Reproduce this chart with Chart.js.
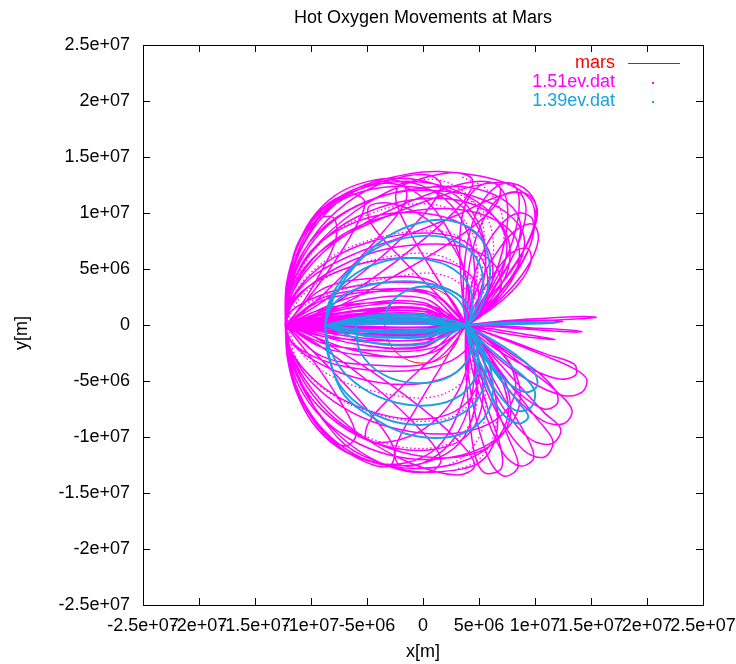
<!DOCTYPE html>
<html>
<head>
<meta charset="utf-8">
<title>Hot Oxygen Movements at Mars</title>
<script src="https://cdn.jsdelivr.net/npm/chart.js@4.4.1/dist/chart.umd.min.js"></script>
<style>
  html, body { margin: 0; padding: 0; background: #fff; }
  #wrap { width: 736px; height: 664px; position: relative; }
</style>
</head>
<body>
<div id="wrap"><canvas id="orbits"></canvas></div>
<script>
// all track points are in units of 1e6 m
const M = 1e6;

const xTickValues = [-2.5e7, -2e7, -1.5e7, -1e7, -5e6, 0, 5e6, 1e7, 1.5e7, 2e7, 2.5e7];
const xTickLabels = ['-2.5e+07', '-2e+07', '-1.5e+07', '-1e+07', '-5e+06', '0', '5e+06', '1e+07', '1.5e+07', '2e+07', '2.5e+07'];
const yTickValues = [-2.5e7, -2e7, -1.5e7, -1e7, -5e6, 0, 5e6, 1e7, 1.5e7, 2e7, 2.5e7];
const yTickLabels = ['-2.5e+07', '-2e+07', '-1.5e+07', '-1e+07', '-5e+06', '0', '5e+06', '1e+07', '1.5e+07', '2e+07', '2.5e+07'];

// planet outline (radius ~3.4e6 m)
const marsOutline = [
  [3.4, 0], [2.94, 1.7], [1.7, 2.94], [0, 3.4], [-1.7, 2.94], [-2.94, 1.7], [-3.4, 0],
  [-2.94, -1.7], [-1.7, -2.94], [0, -3.4], [1.7, -2.94], [2.94, -1.7], [3.4, 0]
];

// 1.51 eV: orbits arching over the north side
const hot151North = [
  [[-12.3,0],[-11.9,4],[-10.5,7.6],[-8.3,10.7],[-5.2,12.5],[-1.2,13.5],[1.5,13.7],[5.1,13.3],[7.8,12.5],[9.6,11.2],[10,9.4],[9.4,6.7],[7,3],[3.8,0],[0,0.6],[-6,0.5],[-12.3,0]],
  [[-12.3,0],[-12,3.5],[-11,7],[-9,10],[-6,12],[-2.5,12.8],[1,12.6],[4,11.5],[6.5,9.5],[7.5,7],[6.5,3.5],[3.8,0],[0,1.2],[-6,1.0],[-12.3,0]],
  [[-12.3,0],[-12.1,3],[-11.3,6.2],[-9.8,9],[-7,11.3],[-3.5,12.3],[0,12.2],[3,11],[5,8.5],[5.6,5.5],[5,2.5],[3.8,0],[0,1.8],[-6,1.6],[-12.3,0]],
  [[-12.3,0],[-11.8,3],[-10,5.8],[-7,8],[-3,9.8],[1.5,11.5],[5.5,12.6],[8.5,12.5],[10,11],[9.8,8.5],[8,5],[5.5,2],[3.8,0],[0,0.9],[-6,0.8],[-12.3,0]],
  [[-12.3,0],[-12,2.5],[-11,5],[-9,7.5],[-6,9.6],[-2,11],[2,11.3],[5.5,10.3],[7.5,8],[7.6,5],[6,2.2],[3.8,0],[0,0.4],[-6,0.35],[-12.3,0]],
  [[-12.3,0],[-12.1,2],[-11.4,4.3],[-10,6.6],[-7.5,8.5],[-4,9.8],[0,10],[3.5,9],[5.8,6.8],[6.2,4],[5.2,1.6],[3.8,0],[0,2.4],[-6,2.1],[-12.3,0]],
  [[-12.3,0],[-11.9,2],[-10.5,4],[-8,6],[-4.5,7.5],[-0.5,8.2],[3,7.8],[5.2,6],[5.8,3.5],[5,1.3],[3.8,0],[0,1.5],[-6,1.3],[-12.3,0]],
  [[-12.3,0],[-12,1.5],[-10.8,3],[-8.5,4.4],[-5,5.6],[-1,6],[2.5,5.5],[4.6,4],[4.9,2],[3.8,0],[0,0.8],[-6,0.7],[-12.3,0]],
  [[-12.3,0],[-11.8,1.2],[-10,2.3],[-7,3.3],[-3,3.8],[1,3.6],[3.6,2.4],[4.2,1],[3.8,0],[0,0.2],[-6,0.2],[-12.3,0]],
  [[-12.3,0],[-12.1,3.5],[-11.3,7],[-9.6,9.6],[-7.2,11.6],[-4.5,12.6],[-1.8,12.4],[0.6,10.8],[2.5,8],[3.8,4.5],[4.2,2],[3.8,0],[0,3],[-6,2.6],[-12.3,0]],
  [[-12.3,0],[-12,3],[-11,6],[-9,8.6],[-6,10.6],[-2.5,11.8],[1,12],[4.5,11.5],[7.5,10],[9,8],[8.6,5.5],[6.5,2.5],[3.8,0],[0,1.0],[-6,0.9],[-12.3,0]],
  [[-12.3,0],[-12,2.8],[-11,5.6],[-9.2,8.2],[-6.5,10.3],[-3,11.7],[0.5,12.3],[4,12.3],[7,11.3],[8.6,9.5],[8.4,7],[6.6,3.8],[3.8,0],[0,1.4],[-6,1.2],[-12.3,0]],
  [[-12.3,0],[-11.9,2.2],[-10.8,4.6],[-8.8,6.9],[-5.8,8.8],[-2,10],[2,10.4],[5.5,9.8],[8,8.2],[8.6,6],[7.4,3.2],[3.8,0],[0,0.6],[-6,0.6],[-12.3,0]],
  [[-12.3,0],[-12.1,3.2],[-11.4,6.5],[-10,9.4],[-7.8,11.6],[-5,12.8],[-2,13.1],[1,12.6],[3.6,11],[5.2,8.5],[5.6,5.5],[5,2.6],[3.8,0],[0,2],[-6,1.8],[-12.3,0]],
  [[-12.3,0],[-11.7,1.8],[-10,3.6],[-7.5,5.2],[-4,6.6],[0,7.2],[3.5,7],[6.2,5.6],[7,3.6],[6,1.6],[3.8,0],[0,-0.2],[-6,-0.1],[-12.3,0]],
  [[-12.3,0],[-11.6,2.4],[-9.5,4.6],[-6,6.4],[-1.5,8],[3,9.8],[6.5,11.4],[9,11.8],[10.2,10.4],[9.6,7.8],[7.5,4.4],[5.2,1.6],[3.8,0],[0,0.1],[-6,0.1],[-12.3,0]]
];

// 1.51 eV: orbits arching over the south side
const hot151South = [
  [[-12.3,0],[-11.9,-2.5],[-10.7,-5.5],[-8.9,-8.5],[-6.25,-11.2],[-1.8,-12.9],[1.5,-13.1],[5,-12.3],[6.5,-10],[6.5,-6.5],[5.3,-3],[3.8,0],[0,-0.6],[-6,-0.5],[-12.3,0]],
  [[-12.3,0],[-12.1,-3],[-11.2,-6.2],[-9.5,-9.2],[-6.8,-11.4],[-3,-12.5],[0.5,-12.2],[3.3,-10.5],[4.6,-7.5],[4.7,-4],[3.8,0],[0,-1.3],[-6,-1.1],[-12.3,0]],
  [[-12.3,0],[-12,-2.4],[-11,-5],[-9,-7.6],[-6,-9.8],[-2.5,-11],[1,-11.1],[3.8,-10],[5.2,-7.5],[5.2,-4.3],[3.8,0],[0,-2],[-6,-1.7],[-12.3,0]],
  [[-12.3,0],[-11.9,-2],[-10.6,-4],[-8.3,-6],[-5,-7.6],[-1.2,-8.4],[2.2,-8],[4.4,-6.3],[5,-3.6],[3.8,0],[0,-0.9],[-6,-0.8],[-12.3,0]],
  [[-12.3,0],[-11.8,-1.5],[-10,-3],[-7,-4.4],[-3.5,-5.2],[0,-5.2],[3,-4.2],[4.3,-2.2],[3.8,0],[0,-0.35],[-6,-0.3],[-12.3,0]],
  [[-12.3,0],[-12,-3],[-11.1,-6],[-9.4,-8.8],[-7,-11],[-4.2,-12.3],[-1.5,-12.3],[1.2,-11],[3,-8.2],[4,-4.5],[3.8,0],[0,-2.7],[-6,-2.3],[-12.3,0]],
  [[-12.3,0],[-11.7,-2.8],[-10.3,-5.6],[-7.8,-8.4],[-4.5,-10.4],[-0.8,-11.6],[3,-11.8],[6,-10.8],[7.7,-8.6],[7.5,-5.5],[5.8,-2.5],[3.8,0],[0,-1.6],[-6,-1.4],[-12.3,0]],
  [[-12.3,0],[-12.1,-3],[-11.3,-6],[-9.8,-8.8],[-7.4,-11],[-4,-12.4],[-0.3,-12.8],[3.2,-12.3],[6.2,-10.6],[7.6,-8],[7,-4.8],[5.4,-2],[3.8,0],[0,-0.8],[-6,-0.7],[-12.3,0]],
  [[-12.3,0],[-11.8,-2.2],[-10.4,-4.6],[-8,-6.8],[-4.6,-8.6],[-0.6,-9.6],[3.4,-9.6],[6.6,-8.4],[8.2,-6.2],[7.8,-3.6],[5.8,-1.4],[3.8,0],[0,-1.9],[-6,-1.7],[-12.3,0]],
  [[-12.3,0],[-12,-2.7],[-11.1,-5.4],[-9.3,-8],[-6.5,-10.2],[-3,-11.6],[0.8,-12],[4.5,-11.3],[7.2,-9.6],[8.6,-7.2],[8.3,-4.4],[6.4,-1.8],[3.8,0],[0,-0.2],[-6,-0.2],[-12.3,0]],
  [[-12.3,0],[-11.8,-1.4],[-10.2,-2.6],[-7.5,-3.6],[-4,-4.1],[-0.5,-4],[2.5,-3.2],[4.2,-1.6],[3.8,0],[0,0.1],[-6,0.1],[-12.3,0]]
];

// 1.51 eV: tilted loops hanging off the nightside point
const hot151NightLoops = [
  [[-12.3,0],[-12,3.5],[-10.5,7.5],[-7.8,10.8],[-4.5,12.6],[-2,12.8],[-1.5,11.2],[-3.5,8.4],[-7,4.6],[-10.5,1.3],[-12.3,0]],
  [[-12.3,0],[-11.9,3.6],[-10,7.6],[-6.8,10.9],[-3,12.9],[0.5,13.4],[1.6,12.4],[0,9.8],[-3.8,6],[-8.5,2.4],[-12.3,0]],
  [[-12.3,0],[-11.8,3.4],[-9.6,7],[-6,10.2],[-1.8,12.5],[2.4,13.6],[4.4,13],[3.6,11],[0,7.6],[-5,3.8],[-9.6,1],[-12.3,0]],
  [[-12.3,0],[-11.6,3],[-9,6.4],[-5,9.2],[0,11.5],[4.5,12.8],[6.8,12.4],[6.4,10.6],[2.8,7.6],[-2.5,4.4],[-8.5,1.2],[-12.3,0]],
  [[-12.3,0],[-12.1,3.8],[-11,7.6],[-9,10.4],[-6.6,11.7],[-5.2,11],[-6.2,8.4],[-8.6,4.6],[-11.2,1.2],[-12.3,0]],
  [[-12.3,0],[-12.2,3.6],[-11.2,7],[-9.6,9.3],[-8,9.6],[-7.8,7.6],[-9.4,4.2],[-11.4,1],[-12.3,0]],
  [[-12.3,0],[-12,-3.2],[-10.6,-7],[-8,-10.4],[-5.2,-12.2],[-3,-12.6],[-2.6,-11],[-4.6,-8],[-8,-4.2],[-11,-1.2],[-12.3,0]],
  [[-12.3,0],[-11.8,-3.2],[-9.8,-7.2],[-6.6,-10.6],[-2.8,-12.7],[0.6,-13.1],[1.6,-12],[-0.2,-9.4],[-4.2,-5.6],[-9,-2],[-12.3,0]],
  [[-12.3,0],[-11.6,-3],[-9.2,-6.6],[-5.6,-9.8],[-1.2,-12.3],[3,-13.4],[4.6,-12.6],[3.4,-10.6],[-0.4,-7.2],[-5.4,-3.6],[-10,-0.9],[-12.3,0]],
  [[-12.3,0],[-12,-3.2],[-10.8,-6.8],[-8.9,-9.6],[-7,-10.8],[-6,-9.8],[-7.4,-6.8],[-9.8,-3.2],[-12.3,0]]
];

// 1.51 eV: short loops leaving the dayside point
const hot151Petals = [
  [[3.8,0],[4.2,3],[5.2,6.2],[6.8,8.8],[8.5,10],[9.8,9.4],[9.6,7.2],[8.2,4.5],[6,2],[3.8,0]],
  [[3.8,0],[3.9,3.5],[4.5,7],[5.6,9.8],[7,11.5],[8.6,11.8],[9.2,10.2],[8.4,7],[6.5,3.5],[3.8,0]],
  [[3.8,0],[3.4,4],[3.3,8],[3.8,10.8],[5,12.4],[6.5,12.6],[7.5,11],[7.3,7.5],[6,3.5],[3.8,0]],
  [[3.8,0],[5,2.5],[6.5,4.8],[8,6.5],[9.4,6.8],[9.6,5.5],[8.4,3.5],[6.2,1.5],[3.8,0]],
  [[3.8,0],[4.8,3.2],[6.4,6.2],[8.2,8.4],[9.8,9],[10.3,7.6],[9.2,5],[6.8,2.2],[3.8,0]],
  [[3.8,0],[3.6,3.8],[4,7.5],[5,10.5],[6.6,12.4],[8,12.6],[8.6,11],[8,7.5],[6.2,3.5],[3.8,0]],
  [[3.8,0],[4.6,3.6],[4.2,7.6],[2.6,10.6],[0,12.4],[-2,12.6],[-2.4,11],[-0.8,7.6],[1.6,3.6],[3.8,0]],
  [[3.8,0],[4,3.4],[2.8,6.8],[0.4,9.4],[-2.6,10.8],[-4.8,10.6],[-4.6,9],[-2,6],[1.4,2.6],[3.8,0]],
  [[3.8,0],[4.6,-3.6],[4,-7.6],[2.4,-10.6],[-0.2,-12.4],[-2.2,-12.4],[-2.4,-10.8],[-0.6,-7.4],[1.8,-3.4],[3.8,0]],
  [[3.8,0],[4,-3.4],[2.6,-6.8],[0.2,-9.2],[-2.8,-10.4],[-5,-10.2],[-4.8,-8.6],[-2.2,-5.8],[1.2,-2.6],[3.8,0]],
  [[3.8,0],[7,0.35],[11,0.6],[14,0.75],[15.5,0.7],[14,0.55],[11,0.4],[7,0.2],[3.8,0]],
  [[3.8,0],[7,-0.2],[10.5,-0.45],[13,-0.6],[14.2,-0.6],[13,-0.45],[10.5,-0.3],[7,-0.1],[3.8,0]],
  [[3.8,0],[7,0.25],[10,0.4],[12.5,0.3],[10,0.15],[7,0.05],[3.8,0]],
  [[3.8,0],[6.5,-0.6],[9.5,-1.1],[11.8,-1.3],[9.5,-0.9],[6.5,-0.4],[3.8,0]],
  [[3.8,0],[7,-1.2],[10.5,-2.6],[13.3,-3.8],[14.6,-4.8],[14.2,-6],[12.5,-6.3],[9.5,-5],[6.5,-2.8],[3.8,0]],
  [[3.8,0],[6.5,-1.8],[9.5,-4],[12,-6],[13.3,-7.6],[12.6,-8.8],[10.8,-8.6],[8.2,-6.4],[5.8,-3.2],[3.8,0]],
  [[3.8,0],[6,-2.5],[8.5,-5.3],[10.8,-7.8],[12.3,-9.3],[11.5,-10.6],[9.6,-10.2],[7.3,-7.6],[5.3,-3.8],[3.8,0]],
  [[3.8,0],[5.3,-3],[7.2,-6.5],[9,-9.5],[9.9,-11.8],[8.7,-12.6],[7.2,-11.5],[5.6,-8],[4.4,-4],[3.8,0]],
  [[3.8,0],[4.6,-3.5],[5.8,-7.5],[6.9,-10.8],[7,-12.8],[5.5,-13.2],[4.6,-11.5],[4.1,-7.5],[3.8,-3.5],[3.8,0]],
  [[3.8,0],[7,-2],[10,-4],[11.8,-5.8],[12,-7],[10.8,-7.5],[8.5,-6],[6,-3.2],[3.8,0]],
  [[3.8,0],[7.5,-1.3],[11,-2.6],[13.5,-3.5],[13.6,-4.5],[12,-4.8],[9,-3.6],[6,-1.8],[3.8,0]],
  [[3.8,0],[5.8,-2.6],[8,-5.6],[10.2,-8.4],[11.6,-10.4],[10.8,-11.8],[9,-11.2],[6.8,-8.2],[5,-4.2],[3.8,0]],
  [[3.8,0],[5,-3.2],[6.3,-6.8],[7.6,-10],[8.5,-12.6],[7.3,-13.5],[6,-12.2],[4.8,-8.6],[4,-4.2],[3.8,0]]
];

// 1.51 eV: flat tracks along the axis
const hot151Flat = [
  [[-12.3,0],[-9,0.9],[-4,1.3],[1,1.1],[3.8,0],[1,-0.6],[-4,-0.8],[-9,-0.6],[-12.3,0]],
  [[-12.3,0],[-9,-1.6],[-4,-2.3],[1,-2],[3.8,0],[1,-1.2],[-4,-1.4],[-9,-1],[-12.3,0]],
  [[-12.3,0],[-9,2.2],[-4,3],[1,2.6],[3.8,0],[1,1.6],[-4,2],[-9,1.4],[-12.3,0]],
  [[-12.3,0],[-9,0.45],[-4,0.6],[1,0.5],[3.8,0],[1,0.2],[-4,0.25],[-9,0.2],[-12.3,0]],
  [[-12.3,0],[-9,-0.45],[-4,-0.55],[1,-0.45],[3.8,0],[1,-0.15],[-4,-0.2],[-9,-0.15],[-12.3,0]],
  [[-12.3,0],[-9,3.2],[-4,4.2],[1,3.8],[3.8,0],[1,2.8],[-4,3.2],[-9,2.4],[-12.3,0]],
  [[-12.3,0],[-9,-2.8],[-4,-3.6],[1,-3.2],[3.8,0],[1,-2.4],[-4,-2.8],[-9,-2],[-12.3,0]]
];

// 1.51 eV: fast, sparsely sampled stretches (show up dotted)
const hot151Sparse = [
  [[-12.3,0],[-11,3.5],[-8,6.2],[-4,7.8],[0,8.4],[3,8],[4.8,6],[4.6,3],[3.8,0]],
  [[-12.3,0],[-10.8,2.6],[-7.5,4.8],[-3,6.1],[1,6.3],[3.8,4.8],[4.5,2.4],[3.8,0]],
  [[-12.3,0],[-11.3,4.2],[-8.8,7.6],[-5,9.8],[-1,10.8],[2.5,10.3],[4.5,8],[4.8,4.5],[3.8,0]],
  [[-12.3,0],[-10.5,1.8],[-7,3.2],[-3,4.2],[1,4.6],[3.4,3.6],[4.3,1.8],[3.8,0]],
  [[-1,13],[2,12.8],[4.5,11],[5.5,8],[5.2,4.5],[3.8,0]],
  [[1,12.4],[3.4,11.6],[5.6,9.8],[6.3,6.8],[5.5,3.2],[3.8,0]],
  [[3.5,13.2],[5.6,12.2],[7,10],[7.1,6.8],[5.8,3],[3.8,0]],
  [[-12.3,0],[-11,-3.5],[-8,-6.3],[-4,-8],[0,-8.6],[3,-8],[4.8,-6],[4.7,-3],[3.8,0]],
  [[-12.3,0],[-10.8,-2.6],[-7.5,-4.9],[-3,-6.2],[1,-6.4],[3.8,-4.8],[4.5,-2.4],[3.8,0]],
  [[-12.3,0],[-11.3,-4.2],[-8.8,-7.8],[-5,-10],[-1,-11],[2.5,-10.5],[4.5,-8.2],[4.8,-4.6],[3.8,0]],
  [[-0.5,-12.8],[2.5,-12.4],[4.8,-10.4],[5.6,-7.2],[5,-3.6],[3.8,0]],
  [[2.8,-13],[5,-12],[6.4,-9.6],[6.4,-6],[5.2,-2.8],[3.8,0]]
];

// 1.39 eV tracks
const hot139Tracks = [
  [[-8.75,0],[-7.8,2.8],[-5.6,5.8],[-3,8],[0,9.2],[2.5,9.3],[4.8,8.2],[5.9,5.8],[5.7,2.9],[3.8,0],[0,0.5],[-5,0.4],[-8.75,0]],
  [[-8.75,0],[-8,2.5],[-6,4.6],[-3,5.8],[0,5.9],[2.7,5],[4.3,3],[3.8,0],[0,0.9],[-5,0.8],[-8.75,0]],
  [[-8.75,0],[-8.2,1.6],[-6.5,3],[-3.5,3.8],[0,3.8],[3,2.8],[4.2,1.2],[3.8,0],[0,0.3],[-5,0.25],[-8.75,0]],
  [[-8.75,0],[-8.4,2],[-7,4.4],[-4.6,6.6],[-1.4,7.8],[2,7.8],[4.6,6.2],[5.4,3.6],[4.6,1.2],[3.8,0],[0,0.6],[-5,0.6],[-8.75,0]],
  [[-3.5,0],[-3,1.8],[-1.2,3.2],[1,3.4],[3,2.4],[3.9,0.8],[3.8,0]],
  [[-8.75,0],[-8.3,-3.1],[-7,-6.3],[-4.1,-8.5],[-1.2,-9.8],[2.4,-10],[5,-8.8],[6.2,-6.5],[5.8,-3.2],[3.8,0],[0,-0.5],[-5,-0.45],[-8.75,0]],
  [[-8.75,0],[-8.3,-2.2],[-6.8,-4.5],[-4,-6.4],[-0.5,-7.2],[2.8,-6.6],[4.7,-4.6],[4.8,-2],[3.8,0],[0,-1],[-5,-0.9],[-8.75,0]],
  [[-8.75,0],[-8.5,-2.6],[-7.4,-5.4],[-5,-7.6],[-1.8,-8.8],[1.6,-8.7],[4.4,-7.2],[5.6,-4.6],[5,-1.8],[3.8,0],[0,-0.7],[-5,-0.6],[-8.75,0]],
  [[-6,0],[-5.6,-2.4],[-3.6,-4.4],[-0.6,-5.2],[2.4,-4.6],[4.2,-2.6],[3.8,0]],
  [[3.8,0],[5.6,-1.8],[7.5,-3.4],[9.2,-4.8],[10,-6],[9.6,-7.4],[8.2,-7.6],[6.6,-6],[5,-3.2],[3.8,0]],
  [[3.8,0],[5.2,-2.5],[7,-5],[8.6,-7],[9.4,-8.2],[8.5,-8.8],[7,-7.8],[5.5,-5],[4.3,-2.2],[3.8,0]],
  [[3.8,0],[6,-1.2],[8.2,-2.6],[9.8,-4],[10.2,-5.4],[9.2,-6],[7.4,-5],[5.4,-2.6],[3.8,0]],
  [[3.8,0],[6.5,0.15],[9.5,0.25],[12,0.2],[9.5,0.1],[6.5,0.05],[3.8,0]],
  [[-8.75,0],[-5,0.7],[0,0.8],[3.8,0],[0,-0.4],[-5,-0.5],[-8.75,0]],
  [[-8.75,0],[-5,-1.5],[0,-1.7],[3.8,0],[0,-1],[-5,-1],[-8.75,0]],
  [[-8.75,0],[-5,0.3],[0,0.35],[3.8,0],[0,0.1],[-5,0.1],[-8.75,0]],
  [[-8.75,0],[-5,-0.9],[0,-1.1],[3.8,0],[0,-0.6],[-5,-0.5],[-8.75,0]]
];

// join separate tracks into one series, broken by gaps
function toSeries(tracks) {
  const out = [];
  tracks.forEach(track => {
    track.forEach(p => out.push({ x: p[0] * M, y: p[1] * M }));
    out.push({ x: null, y: null });
  });
  return out;
}

const FONT = '"Liberation Sans", Arial, Helvetica, sans-serif';
const PINK = '#ff00ff';
const BLUE = '#1ba1e2';
const RED = '#ff0000';

// frame, mirrored inward ticks, title, axis names and key
const framePlugin = {
  id: 'gnuFrame',
  afterDraw(chart) {
    const ctx = chart.ctx;
    const a = chart.chartArea;
    const xs = chart.scales.x, ys = chart.scales.y;
    ctx.save();
    ctx.strokeStyle = '#000';
    ctx.lineWidth = 1;
    ctx.strokeRect(Math.round(a.left) + 0.5, Math.round(a.top) + 0.5, Math.round(a.right - a.left), Math.round(a.bottom - a.top));
    ctx.beginPath();
    xTickValues.forEach(v => {
      const px = Math.round(xs.getPixelForValue(v)) + 0.5;
      ctx.moveTo(px, a.bottom); ctx.lineTo(px, a.bottom - 7);
      ctx.moveTo(px, a.top); ctx.lineTo(px, a.top + 7);
    });
    yTickValues.forEach(v => {
      const py = Math.round(ys.getPixelForValue(v)) + 0.5;
      ctx.moveTo(a.left, py); ctx.lineTo(a.left + 7, py);
      ctx.moveTo(a.right, py); ctx.lineTo(a.right - 7, py);
    });
    ctx.stroke();

    ctx.fillStyle = '#000';
    ctx.font = '18px ' + FONT;
    ctx.textAlign = 'center';
    ctx.textBaseline = 'middle';
    ctx.fillText('Hot Oxygen Movements at Mars', (a.left + a.right) / 2, 18);
    ctx.fillText('x[m]', (a.left + a.right) / 2, 652);
    ctx.save();
    ctx.translate(22, 333);
    ctx.rotate(-Math.PI / 2);
    ctx.fillText('y[m]', 0, 0);
    ctx.restore();

    // key: only the three named series
    ctx.textAlign = 'right';
    chart.data.datasets.slice(0, 3).forEach((ds, i) => {
      const y = 63 + i * 19;
      ctx.fillStyle = ds.borderColor;
      ctx.fillText(ds.label, 615, y);
      if (i === 0) {
        ctx.strokeStyle = ds.borderColor;
        ctx.lineWidth = 1.2;
        ctx.beginPath();
        ctx.moveTo(628, y + 0.5); ctx.lineTo(680, y + 0.5);
        ctx.stroke();
      } else {
        ctx.fillRect(652, y, 2, 2);
      }
    });
    ctx.restore();
  }
};

new Chart(document.getElementById('orbits'), {
  type: 'scatter',
  data: {
    datasets: [
      {
        label: 'mars',
        data: toSeries([marsOutline]),
        borderColor: RED,
        borderWidth: 1,
        showLine: true,
        tension: 0.4,
        order: 4
      },
      {
        label: '1.51ev.dat',
        data: toSeries([].concat(hot151Flat, hot151North, hot151South, hot151NightLoops, hot151Petals)),
        borderColor: PINK,
        borderWidth: 1.5,
        showLine: true,
        tension: 0.35,
        order: 2
      },
      {
        label: '1.39ev.dat',
        data: toSeries(hot139Tracks),
        borderColor: BLUE,
        borderWidth: 1.9,
        showLine: true,
        tension: 0.35,
        order: 1
      },
      {
        label: '1.51ev.dat',
        data: toSeries(hot151Sparse),
        borderColor: PINK,
        borderWidth: 1.3,
        borderDash: [1.5, 2.5],
        showLine: true,
        tension: 0.35,
        order: 3
      }
    ]
  },
  options: {
    responsive: true,
    maintainAspectRatio: false,
    animation: false,
    spanGaps: false,
    layout: { padding: { top: 45, right: 33, left: 0, bottom: 0 } },
    elements: { point: { radius: 0, hoverRadius: 0 } },
    scales: {
      x: {
        type: 'linear',
        min: -2.5e7,
        max: 2.5e7,
        grid: { display: false, drawTicks: false },
        border: { display: false },
        afterBuildTicks: s => { s.ticks = xTickValues.map(v => ({ value: v })); },
        afterFit: s => { s.height = 59; s.paddingLeft = 0; s.paddingRight = 0; },
        ticks: {
          autoSkip: false,
          maxRotation: 0,
          padding: 10,
          color: '#000',
          font: { family: FONT, size: 18 },
          callback: v => xTickLabels[xTickValues.indexOf(v)]
        }
      },
      y: {
        type: 'linear',
        min: -2.5e7,
        max: 2.5e7,
        grid: { display: false, drawTicks: false },
        border: { display: false },
        afterBuildTicks: s => { s.ticks = yTickValues.map(v => ({ value: v })); },
        afterFit: s => { s.width = 143; s.paddingTop = 0; s.paddingBottom = 0; },
        ticks: {
          autoSkip: false,
          padding: 13,
          color: '#000',
          font: { family: FONT, size: 18 },
          callback: v => yTickLabels[yTickValues.indexOf(v)]
        }
      }
    },
    plugins: {
      legend: { display: false },
      title: { display: false },
      tooltip: { enabled: false }
    }
  },
  plugins: [framePlugin]
});
</script>
</body>
</html>
